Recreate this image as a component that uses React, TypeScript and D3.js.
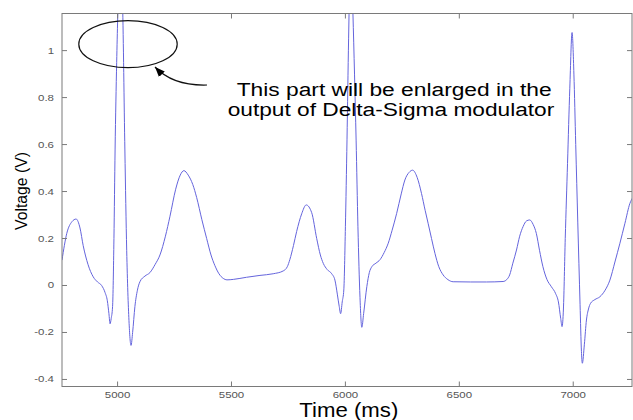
import React from "react";
import * as d3 from "d3";

// signal samples (time in ms, voltage in V)
const times = [
  4756, 4777, 4800, 4818, 4835, 4849, 4870, 4893, 4912, 4930, 4945, 4955, 4962, 4967, 4972, 4978,
  4984, 4989, 4996, 5014, 5022, 5032, 5040, 5050, 5059, 5066, 5076, 5087, 5098, 5120, 5142, 5165,
  5186, 5210, 5230, 5255, 5275, 5291, 5310, 5330, 5347, 5370, 5391, 5410, 5427, 5445, 5464, 5480,
  5508, 5566, 5625, 5683, 5727, 5745, 5756, 5772, 5786, 5808, 5828, 5852, 5874, 5890, 5903, 5920,
  5940, 5954, 5965, 5973, 5979, 5986, 5993, 6000, 6007, 6014, 6024, 6033, 6040, 6047, 6055, 6064,
  6072, 6080, 6094, 6105, 6116, 6134, 6152, 6170, 6188, 6205, 6225, 6245, 6261, 6280, 6295, 6315,
  6334, 6350, 6363, 6378, 6393, 6410, 6429, 6450, 6473, 6550, 6620, 6692, 6708, 6721, 6735, 6751,
  6765, 6780, 6795, 6809, 6824, 6838, 6852, 6867, 6885, 6904, 6923, 6935, 6945, 6951, 6957, 6965,
  6975, 6985, 6995, 7003, 7011, 7020, 7030, 7036, 7040, 7049, 7058, 7067, 7076, 7095, 7117, 7140,
  7161, 7183, 7205, 7227, 7249, 7260,
];
const volts = [
  0.108, 0.222, 0.272, 0.283, 0.245, 0.17, 0.09, 0.037, 0.015, 0.0, -0.03, -0.065, -0.12, -0.163, -0.14, -0.09,
  0.2, 0.577, 0.95, 1.42, 1.2, 0.577, 0.15, -0.15, -0.255, -0.2, -0.09, -0.02, 0.016, 0.04, 0.055, 0.09,
  0.13, 0.21, 0.295, 0.41, 0.47, 0.489, 0.47, 0.43, 0.375, 0.28, 0.2, 0.13, 0.085, 0.05, 0.03, 0.024,
  0.026, 0.035, 0.043, 0.05, 0.062, 0.08, 0.11, 0.17, 0.23, 0.305, 0.343, 0.31, 0.2, 0.13, 0.094, 0.068,
  0.05, 0.023, -0.04, -0.09, -0.12, -0.07, -0.019, 0.25, 0.62, 1.05, 1.45, 1.16, 0.9, 0.619, 0.25, -0.05,
  -0.178, -0.12, -0.005, 0.055, 0.08, 0.095, 0.11, 0.14, 0.18, 0.235, 0.307, 0.39, 0.449, 0.482, 0.491, 0.46,
  0.392, 0.32, 0.265, 0.2, 0.137, 0.08, 0.045, 0.025, 0.016, 0.015, 0.015, 0.017, 0.025, 0.045, 0.095, 0.151,
  0.21, 0.251, 0.275, 0.279, 0.26, 0.222, 0.15, 0.08, 0.025, -0.005, -0.035, -0.07, -0.14, -0.175, -0.1, 0.2,
  0.52, 0.84, 1.077, 0.9, 0.6, 0.27, -0.08, -0.28, -0.331, -0.25, -0.147, -0.1, -0.076, -0.06, -0.048, -0.02,
  0.023, 0.1, 0.18, 0.265, 0.35, 0.372,
];

const xTicks = [5000, 5500, 6000, 6500, 7000];
const yTicks = [-0.4, -0.2, 0, 0.2, 0.4, 0.6, 0.8, 1];
const yTickLabels = ["-0.4", "-0.2", "0", "0.2", "0.4", "0.6", "0.8", "1"];
const noteLines = ["This part will be enlarged in the", "output of Delta-Sigma modulator"];

const width = 633;
const height = 420;
const margin = { top: 13.5, right: 1, bottom: 33.5, left: 62 };
const font = "'Liberation Sans', Arial, sans-serif";

const App = () => {
  const x = d3
    .scaleLinear()
    .domain([4756, 7258])
    .range([margin.left, width - margin.right]);

  const y = d3
    .scaleLinear()
    .domain([-0.43, 1.158])
    .range([height - margin.bottom, margin.top]);

  const points = times.map((t, i) => [t, volts[i]]);
  const line = d3
    .line()
    .x(d => x(d[0]))
    .y(d => y(d[1]))
    .curve(d3.curveMonotoneX);

  const left = margin.left;
  const right = width - margin.right;
  const top = margin.top;
  const bottom = height - margin.bottom;

  return (
    <svg
      width={width}
      height={height}
      style={{ position: "absolute", left: 0, top: 0, background: "#fff" }}
    >
      <defs>
        <clipPath id="plot">
          <rect x={left} y={top} width={right - left} height={bottom - top} />
        </clipPath>
        <marker
          id="head"
          markerUnits="userSpaceOnUse"
          markerWidth={10}
          markerHeight={8}
          refX={10}
          refY={4}
          orient="auto"
        >
          <path d="M0,0 L10,4 L0,8 Z" fill="#000" />
        </marker>
      </defs>

      <path
        d={line(points)}
        fill="none"
        stroke="#6464dc"
        strokeWidth={1}
        clipPath="url(#plot)"
      />

      {/* frame and ticks */}
      <rect
        x={left}
        y={top}
        width={right - left}
        height={bottom - top}
        fill="none"
        stroke="#7a7a7a"
        strokeWidth={1}
      />
      {xTicks.map(t => (
        <g key={"x" + t} stroke="#7a7a7a">
          <line x1={x(t)} x2={x(t)} y1={bottom} y2={bottom - 5} />
          <line x1={x(t)} x2={x(t)} y1={top} y2={top + 5} />
        </g>
      ))}
      {yTicks.map(v => (
        <g key={"y" + v} stroke="#7a7a7a">
          <line x1={left} x2={left + 5} y1={y(v)} y2={y(v)} />
          <line x1={right} x2={right - 5} y1={y(v)} y2={y(v)} />
        </g>
      ))}
      {xTicks.map(t => (
        <text
          key={"xl" + t}
          transform={`translate(${x(t)}, ${397.5}) scale(1.35, 1)`}
          textAnchor="middle"
          fontSize={8.5}
          fontFamily={font}
          fill="#555"
        >
          {t}
        </text>
      ))}
      {yTicks.map((v, i) => (
        <text
          key={"yl" + v}
          transform={`translate(${54}, ${y(v) + 3}) scale(1.35, 1)`}
          textAnchor="end"
          fontSize={8.5}
          fontFamily={font}
          fill="#555"
        >
          {yTickLabels[i]}
        </text>
      ))}

      {/* axis titles */}
      <text
        x={348.8}
        y={417}
        textAnchor="middle"
        fontSize={19.5}
        fontFamily={font}
        textLength={99}
        lengthAdjust="spacingAndGlyphs"
        fill="#000"
      >
        Time (ms)
      </text>
      <text
        transform={`translate(${27}, ${191}) rotate(-90)`}
        textAnchor="middle"
        fontSize={16}
        fontFamily={font}
        textLength={78}
        lengthAdjust="spacingAndGlyphs"
        fill="#000"
      >
        Voltage (V)
      </text>

      {/* annotation */}
      <ellipse cx={128} cy={44.2} rx={49.2} ry={23.5} fill="none" stroke="#111" strokeWidth={1.2} />
      <path
        d="M207,85 Q173,86 155,67"
        fill="none"
        stroke="#111"
        strokeWidth={1.2}
        markerEnd="url(#head)"
      />
      <text
        x={394.2}
        y={95.5}
        textAnchor="middle"
        fontSize={18}
        fontFamily={font}
        textLength={315}
        lengthAdjust="spacingAndGlyphs"
        fill="#000"
      >
        {noteLines[0]}
      </text>
      <text
        x={391}
        y={116}
        textAnchor="middle"
        fontSize={18}
        fontFamily={font}
        textLength={326.6}
        lengthAdjust="spacingAndGlyphs"
        fill="#000"
      >
        {noteLines[1]}
      </text>
    </svg>
  );
};

export default App;
